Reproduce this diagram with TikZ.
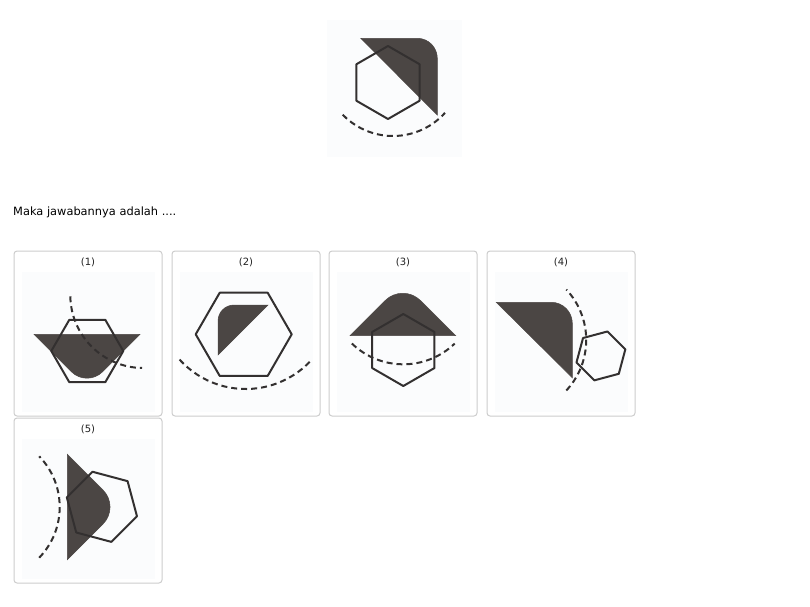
\documentclass[tikz,border=0pt]{standalone}
\usepackage{fontspec}
\setmainfont{DejaVu Sans}
\usetikzlibrary{calc}
\definecolor{Fig_Dark}{HTML}{4B4644}
\definecolor{Fig_Line}{HTML}{333030}
\definecolor{Box_Edge}{HTML}{CDCDCD}
\definecolor{Box_Back}{HTML}{FBFCFD}
\definecolor{Label_Text}{HTML}{222222}

\tikzset{
  hexline/.style={draw=Fig_Line, line width=2pt, line join=round},
  dashline/.style={draw=Fig_Line, line width=2pt, dash pattern=on 6pt off 4pt},
  darkpart/.style={fill=Fig_Dark, draw=Fig_Dark, line width=0.5pt},
  answerbox/.style={draw=Box_Edge, line width=1pt, rounded corners=3pt, fill=white},
}
% hexagon: centre, radius, angle of first corner
\newcommand{\hexagon}[3]{\draw[hexline] (#1) +(#3:#2) -- +(#3+60:#2) -- +(#3+120:#2) -- +(#3+180:#2) -- +(#3+240:#2) -- +(#3+300:#2) -- cycle;}
% right triangle, right-angle corner (#2) rounded with radius #4
\newcommand{\roundtri}[4]{\filldraw[darkpart] (#1) -- ($(#2)!#4pt!(#1)$) .. controls ($(#2)!0.448*#4pt!(#1)$) and ($(#2)!0.448*#4pt!(#3)$) .. ($(#2)!#4pt!(#3)$) -- (#3) -- cycle;}

\begin{document}
\begin{tikzpicture}[x=1pt, y=-1pt]
\useasboundingbox (0,0) rectangle (810,606);
% --- Question figure ---
\fill[Box_Back] (327,20) rectangle (462,157);
\roundtri{360.7,38.3}{437.3,38.3}{437.3,115}{20}
\hexagon{388,82.5}{36.5}{-90}
\draw[dashline] (393,66) ++(136:70) arc[start angle=136, end angle=42, radius=70];
\node[anchor=base west, inner sep=0pt, font=\fontsize{11.4}{13}\selectfont] (question) at (13,215) {Maka jawabannya adalah ....};
% --- Answer boxes ---
\foreach \n/\bx/\by in {1/14/251, 2/172/251, 3/329/251, 4/487/251, 5/14/418} {
  \draw[answerbox] (\bx,\by) rectangle ++(148,165);
  \fill[Box_Back] (\bx+8,\by+21) rectangle ++(133,140);
  \node[font=\fontsize{10}{12}\selectfont, text=Label_Text] (label\n) at (\bx+74,\by+11.3) {(\n)};
}
% (1)
\roundtri{34,334.3}{87,387.3}{140,334.3}{22}
\hexagon{87.3,351}{36}{0}
\draw[dashline] (143.3,295) ++(179:73) arc[start angle=179, end angle=91, radius=73];
% (2)
\hexagon{243.7,334.3}{48}{0}
\roundtri{268,305}{218,305}{218,355}{16}
\draw[dashline] (245.7,300) ++(138:89) arc[start angle=138, end angle=42, radius=89];
% (3)
\roundtri{350,335.7}{402.8,282.9}{455.7,335.7}{25}
\hexagon{403.3,350}{36}{-90}
\draw[dashline] (403.3,290.3) ++(134:74) arc[start angle=134, end angle=46, radius=74];
% (4)
\roundtri{496.3,302.3}{572.3,302.3}{572.3,377.7}{21}
\hexagon{600.9,355.9}{25.3}{-75}
\draw[dashline] (512.2,340) ++(43:74) arc[start angle=43, end angle=-43, radius=74];
% (5)
\roundtri{67.3,454.3}{120,507}{67.3,559.7}{24}
\hexagon{101.9,506.8}{36.3}{15}
\draw[dashline] (-13.3,507) ++(44:73) arc[start angle=44, end angle=-44, radius=73];
\end{tikzpicture}
\end{document}
